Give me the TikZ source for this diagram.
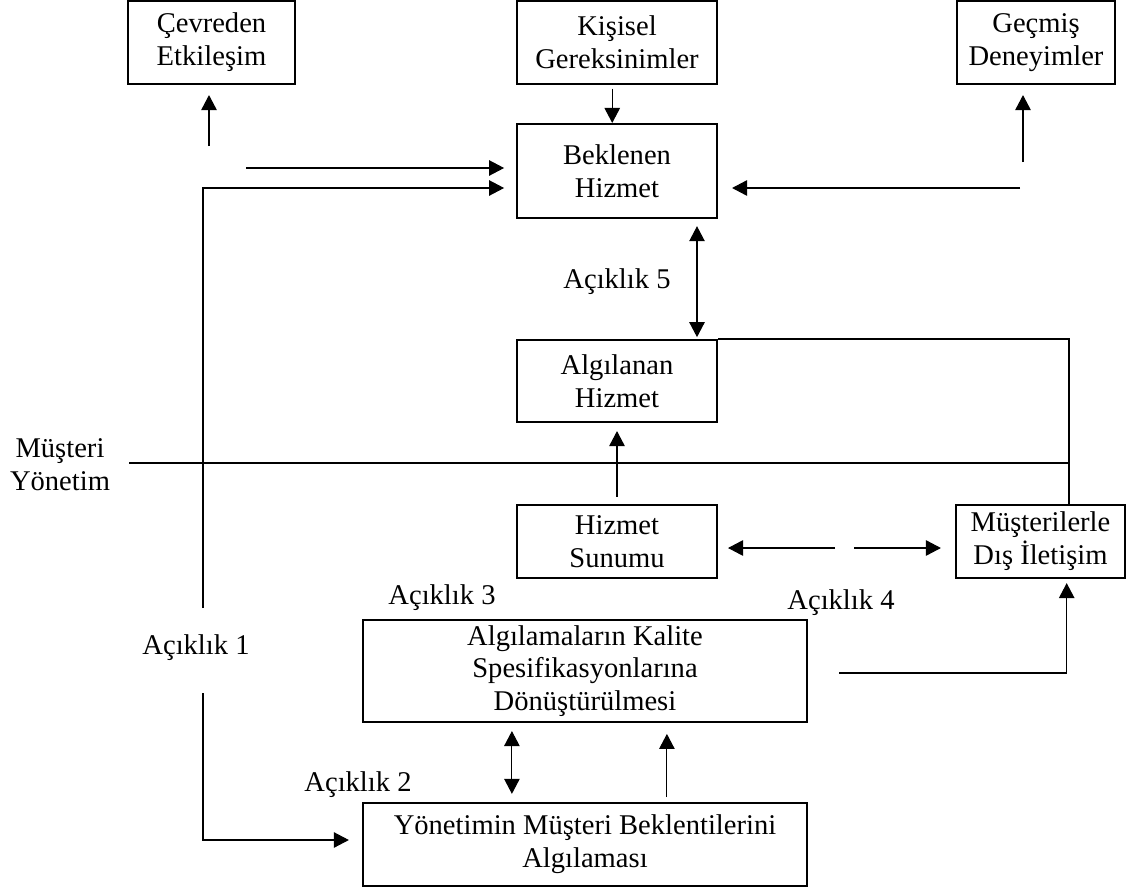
\documentclass[tikz,border=0pt]{standalone}
\usepackage{fontspec}
\setmainfont{Liberation Serif}
\usetikzlibrary{arrows.meta}
\tikzset{
  kutu/.style   = {draw,line width=0.85pt,align=center,inner sep=0pt,font=\fontsize{12}{13.8}\selectfont},
  etiket/.style = {align=center,inner sep=0pt,font=\fontsize{12}{13.8}\selectfont},
  ok/.style     = {-{Triangle[length=6.3pt,width=6.5pt]},line width=0.45pt},
  ciftok/.style = {{Triangle[length=6.3pt,width=6.5pt]}-{Triangle[length=6.3pt,width=6.5pt]},line width=0.45pt},
  cizgi/.style  = {line width=0.85pt}
}

\begin{document}
\begin{tikzpicture}[x=0.42pt,y=-0.42pt]
  \useasboundingbox (0,0) rectangle (1133,892);
  % kutular
  \node[kutu,minimum width=70pt,minimum height=34.9pt]   (cevre)   at (211.5,42.5) {Çevreden\\Etkileşim};
  \node[kutu,minimum width=84pt,minimum height=34.9pt]   (kisisel) at (617,42.5)   {Kişisel\\Gereksinimler};
  \node[kutu,minimum width=66.4pt,minimum height=34.9pt] (gecmis)  at (1036,42.5)  {Geçmiş\\Deneyimler};
  \node[kutu,minimum width=84pt,minimum height=39.5pt]   (bekle)   at (617,171)    {Beklenen\\Hizmet};
  \node[kutu,minimum width=84pt,minimum height=34.4pt]   (algi)    at (617,381)    {Algılanan\\Hizmet};
  \node[kutu,minimum width=84pt,minimum height=30.7pt]   (sunum)   at (617,541.5)  {Hizmet\\Sunumu};
  \node[kutu,minimum width=71pt,minimum height=30.7pt]   (dis)     at (1040.5,541.5) {Müşterilerle\\Dış İletişim};
  \node[kutu,minimum width=186.5pt,minimum height=42.8pt] (kalite) at (585,671)    {Algılamaların Kalite\\Spesifikasyonlarına\\Dönüştürülmesi};
  \node[kutu,minimum width=186.5pt,minimum height=34.9pt] (yonetim) at (585,844.5) {Yönetimin Müşteri Beklentilerini\\Algılaması};
  % etiketler
  \node[etiket] (acik5) at (617,282) {Açıklık 5};
  \node[etiket] (taraf) at (60,465)  {Müşteri\\Yönetim};
  \node[etiket] (acik3) at (442,598) {Açıklık 3};
  \node[etiket] (acik4) at (841,603) {Açıklık 4};
  \node[etiket] (acik1) at (196,648) {Açıklık 1};
  \node[etiket] (acik2) at (358,785) {Açıklık 2};
  % ust bolum
  \coordinate (c1) at (209,146);
  \draw[ok,shorten >=4.2pt] (c1) -- (c1 |- cevre.south);
  \coordinate (e1) at (246,168);
  \draw[ok,shorten >=5pt] (e1) -- (e1 -| bekle.west);
  \coordinate (a1) at (203,608);
  \coordinate (a2) at (203,188);
  \draw[ok,shorten >=5pt] (a1) -- (a2) -- (a2 -| bekle.west);
  \draw[ok,shorten <=1.5pt] ([xshift=-2pt]kisisel.south) -- ([xshift=-2pt]bekle.north);
  \coordinate (g1) at (1023,162);
  \draw[ok,shorten >=4.2pt] (g1) -- (g1 |- gecmis.south);
  \coordinate (g2) at (1020,188);
  \draw[ok,shorten >=5.9pt] (g2) -- (g2 -| bekle.east);
  \draw[ciftok,shorten <=3pt,shorten >=0.8pt] ([xshift=33.6pt]bekle.south) -- ([xshift=33.6pt]algi.north);
  % musteri / yonetim siniri
  \coordinate (r1) at ([xshift=12pt]dis.north);
  \draw[cizgi] (algi.north east) -| (r1);
  \coordinate (s1) at (129,463);
  \draw[cizgi] (s1) -- (s1 -| r1);
  \draw[ok,shorten <=3pt,shorten >=3.4pt] (sunum.north) -- (algi.south);
  % acik 4
  \coordinate (d1) at (835,548);
  \coordinate (d2) at (854,548);
  \draw[ok,shorten >=4.2pt] (d1) -- (d1 -| sunum.east);
  \draw[ok,shorten >=5.9pt] (d2) -- (d2 -| dis.west);
  \coordinate (k1) at (839,673);
  \draw[ok,shorten >=1.7pt] (k1) -| ([xshift=11pt]dis.south);
  % alt bolum
  \coordinate (b1) at (203,693);
  \coordinate (b2) at (203,840);
  \draw[ok,shorten >=5.5pt] (b1) -- (b2) -- (b2 -| yonetim.west);
  \draw[ciftok,shorten <=3.4pt,shorten >=3.4pt] ([xshift=-30.7pt]kalite.south) -- ([xshift=-30.7pt]yonetim.north);
  \draw[ok,shorten <=2pt,shorten >=4.6pt] ([xshift=34.4pt]yonetim.north) -- ([xshift=34.4pt]kalite.south);
\end{tikzpicture}
\end{document}
